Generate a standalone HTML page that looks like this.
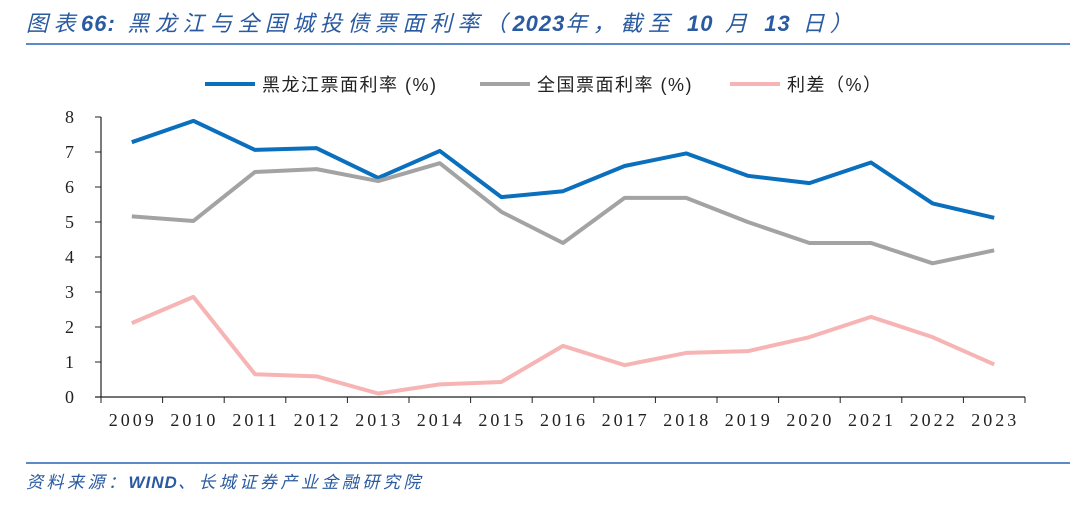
<!DOCTYPE html>
<html><head><meta charset="utf-8"><style>
body{margin:0;width:1080px;height:531px;background:#fff;overflow:hidden;position:relative;font-family:"Liberation Sans","Noto Sans CJK SC",sans-serif}
.title{position:absolute;left:26px;top:6px;font-size:22px;font-style:italic;color:#2a5aa0;white-space:nowrap;letter-spacing:5.5px}
.title b{font-weight:bold;letter-spacing:1px}
.rule{position:absolute;left:26px;width:1044px;height:2px;background:#5b8ac6}
.src{position:absolute;left:26px;top:468px;font-size:17px;font-style:italic;color:#2a5aa0;white-space:nowrap;letter-spacing:3.5px}
.src b{letter-spacing:1px}
</style></head><body>
<div class="title">图表<b>66:</b> 黑龙江与全国城投债票面利率（<b>2023</b>年，截至 <b>10</b> 月 <b>13</b> 日）</div>
<div class="rule" style="top:43px"></div>
<div class="rule" style="top:462px"></div>
<div class="src">资料来源：<b>WIND</b>、长城证券产业金融研究院</div>
<svg id="c" width="1080" height="531" style="position:absolute;left:0;top:0"></svg>
<script>
const years=["2009","2010","2011","2012","2013","2014","2015","2016","2017","2018","2019","2020","2021","2022","2023"];
const hlj=[7.28,7.89,7.06,7.11,6.26,7.03,5.71,5.88,6.6,6.96,6.32,6.11,6.7,5.53,5.12];
const nat=[5.16,5.03,6.43,6.51,6.17,6.68,5.29,4.4,5.69,5.69,5.0,4.4,4.4,3.82,4.19];
const spread=[2.11,2.86,0.65,0.59,0.1,0.36,0.43,1.46,0.91,1.26,1.31,1.71,2.29,1.71,0.93];
const yTicks=[0,1,2,3,4,5,6,7,8];
const series=[{name:"黑龙江票面利率 (%)",v:hlj,c:"#0a6fbd",k:"heilongjiang"},{name:"全国票面利率 (%)",v:nat,c:"#a3a3a3",k:"national"},{name:"利差（%）",v:spread,c:"#f7b4b4",k:"spread"}];
const NS="http://www.w3.org/2000/svg",svg=document.getElementById('c');
const X0=101,X1=1025,Y0=397,Y1=117;
const step=(X1-X0)/years.length;
const x=i=>X0+step*(i+0.5), y=v=>Y0-(Y0-Y1)*v/8;
function mk(t,a,p){const e=document.createElementNS(NS,t);for(const k in a)e.setAttribute(k,a[k]);(p||svg).appendChild(e);return e;}
let ax=mk('line',{x1:X0,y1:Y1,x2:X0,y2:Y0,stroke:'#222','stroke-width':1.2});


let bx=mk('line',{x1:X0-6,y1:Y0,x2:X1,y2:Y0,stroke:'#222','stroke-width':1.2});


yTicks.forEach(t=>{mk('line',{x1:X0-6,x2:X0,y1:y(t),y2:y(t),stroke:'#222'});
let l=mk('text',{x:74,y:y(t)+6,'font-size':18,'font-family':'Liberation Serif,serif','text-anchor':'end',fill:'#222'});l.textContent=t;

});
for(let i=0;i<=years.length;i++)mk('line',{x1:X0+step*i,x2:X0+step*i,y1:Y0,y2:Y0+6,stroke:'#222'});
years.forEach((yr,i)=>{let l=mk('text',{x:x(i)+1,y:426,'font-size':18,'font-family':'Liberation Serif,serif','text-anchor':'middle','letter-spacing':'3',fill:'#222'});l.textContent=yr;

});
series.forEach(s=>{let p=mk('polyline',{points:s.v.map((v,i)=>x(i)+','+y(v)).join(' '),fill:'none',stroke:s.c,'stroke-width':4,'stroke-linejoin':'round'});

});
const lx=[205,480,730];
series.forEach((s,i)=>{let g=mk('g',{});


mk('line',{x1:lx[i],x2:lx[i]+50,y1:84,y2:84,stroke:s.c,'stroke-width':4},g);
let t=mk('text',{x:lx[i]+57,y:91,'font-size':18,fill:'#222','letter-spacing':'1.5'},g);t.textContent=s.name;});
</script>
</body></html>
